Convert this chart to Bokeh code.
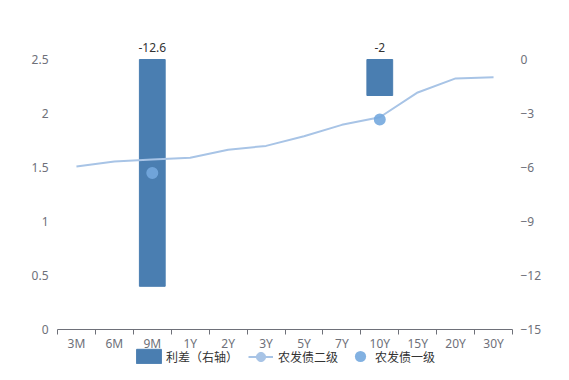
from bokeh.plotting import figure
from bokeh.models import (Range1d, LinearAxis, FixedTicker, ColumnDataSource,
                          Legend, LegendItem)
from bokeh.core.properties import value
from bokeh.embed import file_html
from bokeh.resources import INLINE

# ---- data ----
tenors = ["3M", "6M", "9M", "1Y", "2Y", "3Y", "5Y", "7Y", "10Y", "15Y", "20Y", "30Y"]
yield_2nd = [1.51, 1.555, 1.575, 1.59, 1.665, 1.70, 1.79, 1.895, 1.965, 2.195, 2.325, 2.335]
yield_1st = [None, None, 1.449, None, None, None, None, None, 1.945, None, None, None]
spread_bp = [None, None, -12.6, None, None, None, None, None, -2, None, None, None]
left_ticks = [0, 0.5, 1, 1.5, 2, 2.5]
right_ticks = [-15, -12, -9, -6, -3, 0]
legend_labels = ["利差（右轴）", "农发债二级", "农发债一级"]

NUM_FONT = "Noto Sans"
CJK_FONT = "Noto Sans CJK SC"
AXIS_COLOR = "#6e7079"
BAR_COLOR = "#4a7eb1"
LINE_COLOR = "#a8c4e6"
PT_COLOR = "#74a8de"

# ---- layout (pixels) ----
W, H = 553, 364
PL, PR, PT, PB = 57, 512, 59, 329          # plot area in pixels
n = len(tenors)
ux = (PR - PL) / n                          # px per category
uyl = (PB - PT) / 2.5                       # px per left unit
uyr = (PB - PT) / 15.0                      # px per right unit

xs = [i + 0.5 for i in range(n)]
line_src = ColumnDataSource(dict(x=xs, y=yield_2nd))
pts = [(x, v) for x, v in zip(xs, yield_1st) if v is not None]
pt_src = ColumnDataSource(dict(x=[q[0] for q in pts], y=[q[1] for q in pts]))
bars = [(x, v) for x, v in zip(xs, spread_bp) if v is not None]
bar_src = ColumnDataSource(dict(x=[b[0] for b in bars], top=[0] * len(bars),
                                bottom=[b[1] for b in bars],
                                label=[("%g" % b[1]) for b in bars]))

p = figure(width=W, height=H, output_backend="svg", toolbar_location=None,
           x_range=Range1d(-PL / ux, n + (W - PR) / ux),
           y_range=Range1d(-(H - PB) / uyl, PB / uyl),
           min_border=0, min_border_left=0, min_border_right=0,
           min_border_top=0, min_border_bottom=0)
p.outline_line_color = None
p.xgrid.visible = False
p.ygrid.visible = False
p.background_fill_color = "white"
p.border_fill_color = "white"

p.extra_y_ranges = {"right": Range1d(-15 - (H - PB) / uyr, PT / uyr)}

# x axis (fixed at y = 0)
xa = p.xaxis[0]
xa.fixed_location = 0
xa.bounds = (0, n)
xa.ticker = FixedTicker(ticks=xs, minor_ticks=list(range(n + 1)))
xa.major_label_overrides = {x: t for x, t in zip(xs, tenors)}
xa.major_tick_line_color = None
xa.major_tick_out = 0
xa.major_tick_in = 0
xa.minor_tick_out = 5
xa.minor_tick_in = 0
xa.minor_tick_line_color = AXIS_COLOR
xa.axis_line_color = AXIS_COLOR
xa.major_label_standoff = 0
xa.major_label_text_font = NUM_FONT
xa.major_label_text_font_size = "12px"
xa.major_label_text_color = AXIS_COLOR

# left axis (fixed at x = 0)
ya = p.yaxis[0]
ya.fixed_location = 0
ya.bounds = (0, 2.5)
ya.ticker = FixedTicker(ticks=left_ticks)
ya.major_label_overrides = {t: ("%g" % t) for t in left_ticks}
ya.axis_line_color = None
ya.major_tick_line_color = None
ya.minor_tick_line_color = None
ya.major_tick_out = 0
ya.major_label_standoff = 9
ya.major_label_text_font = NUM_FONT
ya.major_label_text_font_size = "12px"
ya.major_label_text_color = AXIS_COLOR

# right axis (fixed at x = n)
ra = LinearAxis(y_range_name="right", ticker=FixedTicker(ticks=right_ticks),
                fixed_location=n, bounds=(-15, 0))
ra.axis_line_color = None
ra.major_tick_line_color = None
ra.minor_tick_line_color = None
ra.major_tick_out = 0
ra.major_label_standoff = 8
ra.major_label_text_font = NUM_FONT
ra.major_label_text_font_size = "12px"
ra.major_label_text_color = AXIS_COLOR
p.add_layout(ra, "right")

# bars (spread, right axis)
bar_r = p.vbar(x="x", top="top", bottom="bottom", width=0.68, source=bar_src,
               y_range_name="right", fill_color=BAR_COLOR, line_color=BAR_COLOR)
p.text(x="x", y="top", text="label", source=bar_src, y_range_name="right",
       text_align="center", text_baseline="middle", y_offset=-12,
       text_font=value(NUM_FONT), text_font_size="12px", text_color="#333333")

# line (二级)
line_r = p.line(x="x", y="y", source=line_src, line_color=LINE_COLOR, line_width=2)
line_marker = p.scatter(x=[float("nan")], y=[float("nan")], marker="circle",
                        fill_color=LINE_COLOR, line_color=LINE_COLOR)

# points (一级)
pt_r = p.scatter(x="x", y="y", source=pt_src, size=12, marker="circle",
                 fill_color=PT_COLOR, line_color=None, fill_alpha=0.9)

# ---- legends (one per item so each swatch gets its own size) ----
CY = 356  # legend vertical centre in pixels


def add_legend(label, renderers, left, gw, gh, standoff):
    lg = Legend(items=[LegendItem(label=label, renderers=renderers)],
                orientation="horizontal",
                location=(left, H - (CY + gh / 2)),
                glyph_width=gw, glyph_height=gh, label_height=0, label_width=0,
                label_standoff=standoff, spacing=0, padding=0, margin=0,
                border_line_color=None, background_fill_alpha=0,
                label_text_font=CJK_FONT, label_text_font_size="12px",
                label_text_color="#333333")
    p.add_layout(lg, "center")


add_legend(legend_labels[0], [bar_r], 133, 31, 18, 2)
add_legend(legend_labels[1], [line_r, line_marker], 248, 25, 23, 5)
add_legend(legend_labels[2], [pt_r], 346, 28, 28, 1)

open("out.html", "w").write(file_html(p, INLINE))
